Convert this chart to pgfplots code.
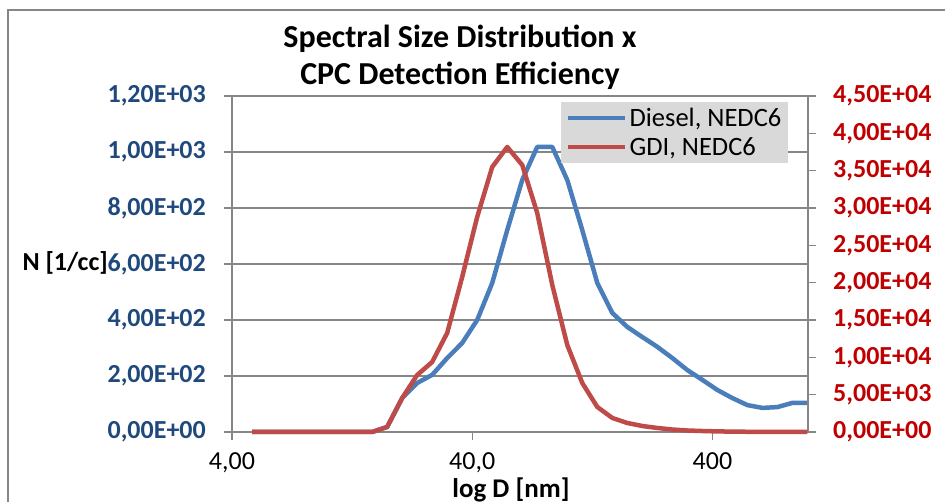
\documentclass[border=0pt]{standalone}
\usepackage{pgfplots}
\pgfplotsset{compat=1.18}
\usepackage{pgfplotstable}
\usepackage{fontspec}
\setmainfont{Carlito}
\definecolor{dblue}{RGB}{74,126,187}
\definecolor{dred}{RGB}{190,75,72}
\definecolor{lblue}{RGB}{31,73,125}
\definecolor{lred}{RGB}{192,0,0}
\definecolor{gridg}{RGB}{134,134,134}
\definecolor{legbg}{RGB}{217,217,217}

\pgfplotstableread{
x diesel gdi
4.85 0 0
5.60 0 0
6.46 0 0
7.46 0 0
8.62 0 0
9.95 0 0
11.49 0 0
13.27 0 0
15.33 0 0
17.70 18 670
20.44 121 4550
23.60 175 7630
27.25 204 9375
31.47 264 13260
36.34 318 20760
41.96 400 28800
48.46 532 35490
55.96 721 38170
64.62 900 35760
74.62 1018 29330
86.18 1018 19690
99.51 900 11650
114.9 721 6560
132.7 532 3350
153.3 425 1875
177.0 375 1205
204.4 339 800
236.0 304 540
272.5 264 330
314.7 221 200
363.4 186 130
419.6 150 80
484.6 121 50
559.6 96 30
646.2 86 20
746.2 89 10
861.8 104 5
995.1 104 5
}\datatable

\begin{document}
\begin{tikzpicture}
\useasboundingbox (-232pt,-70pt) rectangle (713pt,432pt);
\draw[gridg, line width=1.2pt] (-224pt,-150pt) rectangle (800pt,422pt);
\node[font=\fontsize{32}{37}\selectfont\bfseries, align=center] at (228pt,375pt) {Spectral Size Distribution x\\CPC Detection Efficiency};
\node[font=\fontsize{26}{30}\selectfont\bfseries, anchor=west] at (-213pt,169pt) {N [1/cc]};
\node[font=\fontsize{27}{31}\selectfont\bfseries, inner sep=0pt] at (279pt,-58pt) {log D [nm]};
\begin{axis}[
  at={(0pt,0pt)}, anchor=south west, scale only axis,
  width=576pt, height=336pt,
  xmode=log, xmin=4, xmax=1000,
  xtick={4,40,400}, xticklabels={{4,00},{40,0},{400}},
  xminorticks=false, yminorticks=false,
  ymin=0, ymax=1200, ytick={0,200,400,600,800,1000,1200},
  yticklabels={{0,00E+00},{2,00E+02},{4,00E+02},{6,00E+02},{8,00E+02},{1,00E+03},{1,20E+03}},
  axis x line*=bottom, axis y line*=left,
  axis line style={-, gridg, line width=1.2pt},
  ymajorgrids, grid style={gridg, line width=1.2pt},
  tick style={gridg, line width=1.2pt},
  tick align=outside, major tick length=8pt,
  yticklabel style={font=\fontsize{26}{30}\selectfont\bfseries, text=lblue, inner sep=0pt, xshift=-18pt},
  xticklabel style={font=\fontsize{26}{30}\selectfont, inner sep=0pt, yshift=-12pt},
  clip=false,
]
\addplot[dblue, line width=4.5pt, line join=round] table[x=x, y=diesel] {\datatable};
\end{axis}
\begin{axis}[
  at={(0pt,0pt)}, anchor=south west, scale only axis,
  width=576pt, height=336pt,
  xmode=log, xmin=4, xmax=1000,
  hide x axis, xminorticks=false, yminorticks=false,
  axis y line*=right,
  axis line style={-, gridg, line width=1.2pt},
  tick style={gridg, line width=1.2pt},
  tick align=outside, major tick length=8pt,
  ymin=0, ymax=45000, scaled y ticks=false,
  ytick={0,5000,10000,15000,20000,25000,30000,35000,40000,45000},
  yticklabels={{0,00E+00},{5,00E+03},{1,00E+04},{1,50E+04},{2,00E+04},{2,50E+04},{3,00E+04},{3,50E+04},{4,00E+04},{4,50E+04}},
  yticklabel style={font=\fontsize{26}{30}\selectfont\bfseries, text=lred, inner sep=0pt, xshift=17pt},
  legend style={at={(0.571,0.982)}, anchor=north west, fill=legbg, draw=none,
    font=\fontsize{26.5}{30}\selectfont, inner xsep=5pt, inner ysep=4pt, row sep=5pt,
    legend cell align=left},
  legend image code/.code={\draw[#1] (0pt,0pt) -- (57pt,0pt);},
  clip=false,
]
\addlegendimage{dblue, line width=4.5pt}
\addlegendentry{Diesel, NEDC6}
\addplot[dred, line width=4.5pt, line join=round] table[x=x, y=gdi] {\datatable};
\addlegendentry{GDI, NEDC6}
\end{axis}
\end{tikzpicture}
\end{document}
